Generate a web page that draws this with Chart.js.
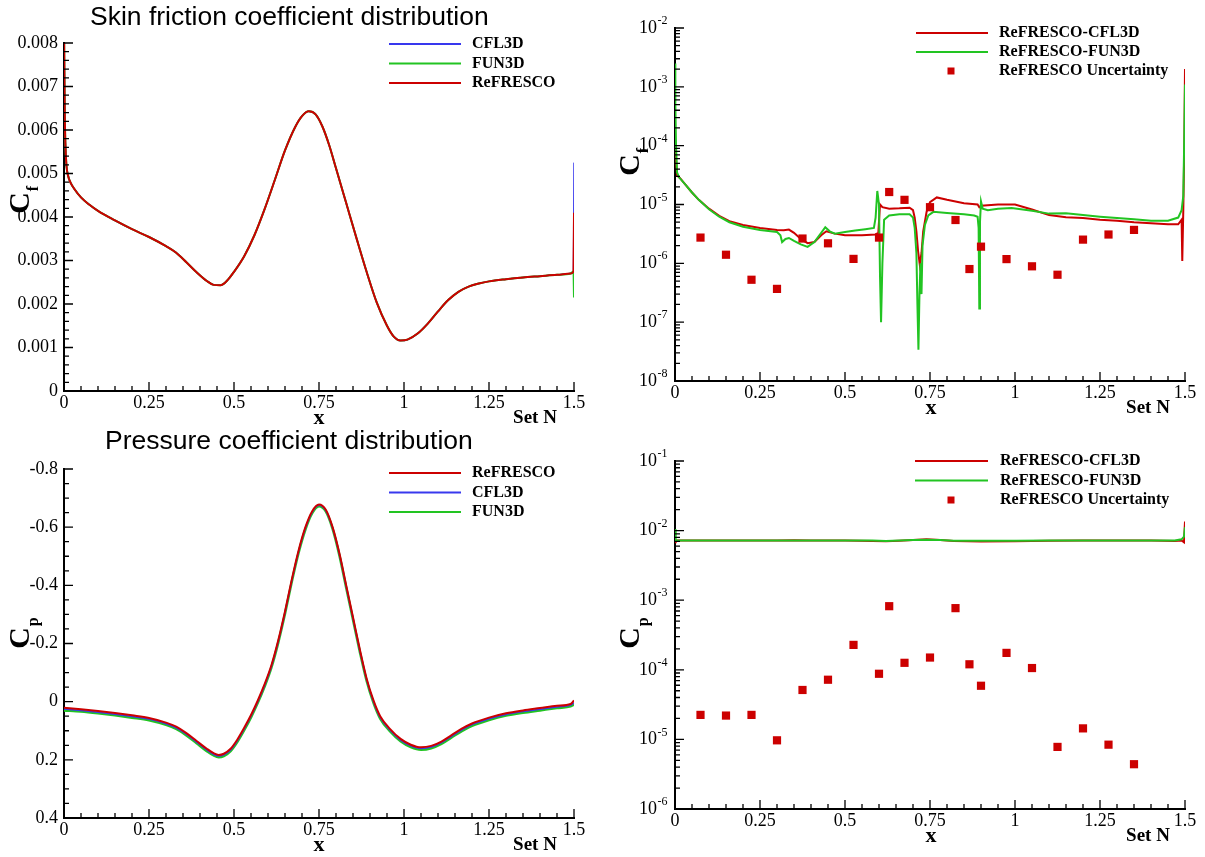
<!DOCTYPE html>
<html>
<head>
<meta charset="utf-8">
<title>Skin friction and pressure coefficient distributions</title>
<script src="https://cdn.jsdelivr.net/npm/chart.js@4.4.1/dist/chart.umd.min.js"></script>
<style>
  html, body { margin: 0; padding: 0; background: #fff; width: 1205px; height: 857px; overflow: hidden; }
  canvas { position: absolute; }
</style>
</head>
<body>
<canvas id="panelCf" width="600" height="428" style="left:0;top:0"></canvas>
<canvas id="panelCfErr" width="605" height="428" style="left:600px;top:0"></canvas>
<canvas id="panelCp" width="600" height="429" style="left:0;top:428px"></canvas>
<canvas id="panelCpErr" width="605" height="429" style="left:600px;top:428px"></canvas>
<script>
// ---------- axis ticks ----------
const xTickValues = [0, 0.25, 0.5, 0.75, 1, 1.25, 1.5];
const xTickLabels = ['0', '0.25', '0.5', '0.75', '1', '1.25', '1.5'];
const cfTickValues = [0, 0.001, 0.002, 0.003, 0.004, 0.005, 0.006, 0.007, 0.008];
const cfTickLabels = ['0', '0.001', '0.002', '0.003', '0.004', '0.005', '0.006', '0.007', '0.008'];
const cpTickValues = [-0.8, -0.6, -0.4, -0.2, 0, 0.2, 0.4];
const cpTickLabels = ['-0.8', '-0.6', '-0.4', '-0.2', '0', '0.2', '0.4'];
const cfErrExponents = [-8, -7, -6, -5, -4, -3, -2];
const cpErrExponents = [-6, -5, -4, -3, -2, -1];

// ---------- skin friction coefficient ----------
const cfX = [0, 0.002, 0.004, 0.007, 0.012, 0.02, 0.03, 0.05, 0.075, 0.1, 0.15, 0.2, 0.25, 0.3, 0.33,
  0.36, 0.39, 0.42, 0.44, 0.46, 0.48, 0.5, 0.53, 0.56, 0.59, 0.62, 0.65, 0.68, 0.7, 0.72,
  0.74, 0.76, 0.78, 0.8, 0.83, 0.86, 0.89, 0.92, 0.95, 0.97, 0.99, 1.01, 1.04, 1.07, 1.1,
  1.13, 1.16, 1.19, 1.22, 1.25, 1.3, 1.35, 1.4, 1.45, 1.49, 1.4985, 1.5];
const cfCFL3D = [0.0085, 0.0065, 0.0057, 0.0052, 0.00495, 0.00478, 0.00465, 0.00445, 0.00428, 0.00414,
  0.00392, 0.00372, 0.00354, 0.00333, 0.00318, 0.00296, 0.00273, 0.00253, 0.00244, 0.00243,
  0.00254, 0.00274, 0.0031, 0.00358, 0.00418, 0.00485, 0.00553, 0.00607, 0.00632, 0.00643,
  0.00636, 0.00608, 0.00565, 0.00512, 0.00432, 0.00352, 0.00274, 0.00203, 0.0015, 0.00125,
  0.00116, 0.00118, 0.00132, 0.00155, 0.00183, 0.00209, 0.00228, 0.0024, 0.00247, 0.00252,
  0.00257, 0.00261, 0.00264, 0.00267, 0.0027, 0.00275, 0.00525];
const cfFUN3D = [0.0085, 0.0065, 0.0057, 0.0052, 0.00495, 0.00478, 0.00465, 0.00445, 0.00428, 0.00414,
  0.00392, 0.00372, 0.00354, 0.00333, 0.00318, 0.00296, 0.00273, 0.00253, 0.00244, 0.00243,
  0.00254, 0.00274, 0.0031, 0.00358, 0.00418, 0.00485, 0.00553, 0.00607, 0.00632, 0.00643,
  0.00636, 0.00608, 0.00565, 0.00512, 0.00432, 0.00352, 0.00274, 0.00203, 0.0015, 0.00125,
  0.00116, 0.00118, 0.00132, 0.00155, 0.00183, 0.00209, 0.00228, 0.0024, 0.00247, 0.00252,
  0.00257, 0.00261, 0.00264, 0.00267, 0.0027, 0.00275, 0.00215];
const cfReFRESCO = [0.0085, 0.0065, 0.0057, 0.0052, 0.00495, 0.00478, 0.00465, 0.00445, 0.00428, 0.00414,
  0.00392, 0.00372, 0.00354, 0.00333, 0.00318, 0.00296, 0.00273, 0.00253, 0.00244, 0.00243,
  0.00254, 0.00274, 0.0031, 0.00358, 0.00418, 0.00485, 0.00553, 0.00607, 0.00632, 0.00643,
  0.00636, 0.00608, 0.00565, 0.00512, 0.00432, 0.00352, 0.00274, 0.00203, 0.0015, 0.00125,
  0.00116, 0.00118, 0.00132, 0.00155, 0.00183, 0.00209, 0.00228, 0.0024, 0.00247, 0.00252,
  0.00257, 0.00261, 0.00264, 0.00267, 0.0027, 0.00275, 0.0041];

// ---------- skin friction differences ----------
const cfDiffCFL3DX = [0, 0.003, 0.006, 0.015, 0.03, 0.05, 0.07, 0.1, 0.13, 0.16, 0.2, 0.25, 0.3, 0.32, 0.335,
  0.35, 0.37, 0.39, 0.41, 0.43, 0.445, 0.47, 0.5, 0.55, 0.59, 0.598, 0.603, 0.61, 0.63, 0.66,
  0.69, 0.7, 0.705, 0.71, 0.715, 0.72, 0.725, 0.73, 0.74, 0.75, 0.77, 0.8, 0.85, 0.89, 0.895,
  0.9, 0.95, 1.0, 1.05, 1.1, 1.15, 1.2, 1.25, 1.3, 1.35, 1.4, 1.45, 1.48, 1.49, 1.492,
  1.495, 1.498, 1.5];
const cfDiffCFL3D = [1.2e-4, 6e-5, 3.1e-5, 2.8e-5, 2.2e-5, 1.6e-5, 1.2e-5, 8.5e-6, 6.4e-6, 5.2e-6,
  4.5e-6, 4.0e-6, 3.7e-6, 3.65e-6, 3.75e-6, 3.3e-6, 2.6e-6, 2.2e-6, 2.3e-6, 3.0e-6,
  3.5e-6, 3.2e-6, 3.0e-6, 3.0e-6, 3.1e-6, 3.3e-6, 1.0e-5, 9.0e-6, 8.5e-6, 8.6e-6,
  8.8e-6, 8.0e-6, 6e-6, 3.5e-6, 1.6e-6, 9.5e-7, 1.5e-6, 3.5e-6, 7.5e-6, 1.1e-5,
  1.32e-5, 1.2e-5, 1.05e-5, 1.0e-5, 9.0e-6, 9.5e-6, 1.0e-5, 1.0e-5, 8.2e-6, 6.6e-6,
  6.1e-6, 5.9e-6, 5.5e-6, 5.3e-6, 5.0e-6, 4.8e-6, 4.6e-6, 4.6e-6, 5.5e-6, 1.1e-6,
  8e-6, 1e-4, 2e-3];
const cfDiffFUN3DX = [0, 0.001, 0.003, 0.006, 0.012, 0.03, 0.05, 0.07, 0.1, 0.13, 0.16, 0.2, 0.25, 0.3, 0.31,
  0.315, 0.325, 0.335, 0.35, 0.37, 0.39, 0.41, 0.43, 0.442, 0.455, 0.47, 0.5, 0.53, 0.56, 0.585,
  0.59, 0.595, 0.6, 0.603, 0.606, 0.61, 0.615, 0.63, 0.66, 0.69, 0.7, 0.705, 0.71, 0.713, 0.716,
  0.719, 0.722, 0.725, 0.728, 0.735, 0.745, 0.76, 0.8, 0.85, 0.88, 0.89, 0.893, 0.895, 0.897, 0.9,
  0.905, 0.92, 0.95, 0.99, 1.05, 1.1, 1.15, 1.2, 1.25, 1.3, 1.35, 1.4, 1.45, 1.48, 1.49,
  1.495, 1.498, 1.5];
const cfDiffFUN3D = [2.5e-3, 5e-4, 1e-4, 3.5e-5, 2.9e-5, 2.2e-5, 1.6e-5, 1.2e-5, 8.3e-6, 6.2e-6,
  5.0e-6, 4.2e-6, 3.7e-6, 3.4e-6, 3.0e-6, 2.3e-6, 2.6e-6, 2.7e-6, 2.4e-6, 2.1e-6,
  1.9e-6, 2.3e-6, 3.3e-6, 4.1e-6, 3.5e-6, 3.2e-6, 3.4e-6, 3.6e-6, 3.8e-6, 4.0e-6,
  6e-6, 1.7e-5, 1.0e-5, 6e-7, 1.0e-7, 1e-6, 5.5e-6, 6.5e-6, 6.8e-6, 6.8e-6,
  6.0e-6, 4e-6, 1.5e-6, 2e-7, 3.4e-8, 3e-7, 1e-6, 3e-7, 2e-6, 4.5e-6,
  6.5e-6, 7.5e-6, 7.2e-6, 6.8e-6, 6.5e-6, 6.2e-6, 4e-6, 1.7e-7, 5e-6, 1.13e-5,
  8.5e-6, 8.0e-6, 8.5e-6, 8.7e-6, 7.8e-6, 7.0e-6, 7.1e-6, 6.6e-6, 6.2e-6, 5.9e-6,
  5.6e-6, 5.3e-6, 5.3e-6, 6.0e-6, 8e-6, 1.4e-5, 1.5e-4, 1.1e-3];

// ---------- uncertainty estimates on Set N ----------
const uncX = [0.075, 0.15, 0.225, 0.3, 0.375, 0.45, 0.525, 0.6, 0.63, 0.675, 0.75, 0.825, 0.866, 0.9,
  0.975, 1.05, 1.125, 1.2, 1.275, 1.35];
const cfUncertainty = [2.74e-6, 1.40e-6, 5.26e-7, 3.68e-7, 2.64e-6, 2.19e-6, 1.19e-6, 2.74e-6, 1.63e-5, 1.2e-5,
  9.0e-6, 5.45e-6, 8.0e-7, 1.92e-6, 1.18e-6, 8.9e-7, 6.4e-7, 2.53e-6, 3.09e-6, 3.7e-6];
const cpUncertainty = [2.25e-5, 2.2e-5, 2.25e-5, 9.7e-6, 5.13e-5, 7.2e-5, 2.28e-4, 8.77e-5, 8.2e-4, 1.26e-4,
  1.5e-4, 7.69e-4, 1.2e-4, 5.9e-5, 1.75e-4, 1.06e-4, 7.8e-6, 1.44e-5, 8.4e-6, 4.4e-6];

// ---------- pressure coefficient ----------
const cpX = [0, 0.05, 0.1, 0.15, 0.2, 0.25, 0.3, 0.33, 0.36, 0.39, 0.42, 0.44, 0.455, 0.47, 0.49,
  0.51, 0.53, 0.55, 0.57, 0.59, 0.61, 0.63, 0.65, 0.67, 0.69, 0.71, 0.73, 0.75, 0.77, 0.79,
  0.81, 0.83, 0.85, 0.87, 0.89, 0.91, 0.93, 0.96, 0.99, 1.02, 1.05, 1.08, 1.11, 1.14, 1.17,
  1.2, 1.25, 1.3, 1.35, 1.4, 1.45, 1.49, 1.5];
const cpReFRESCO = [0.021, 0.026, 0.032, 0.039, 0.047, 0.056, 0.072, 0.086, 0.108, 0.135,
  0.162, 0.177, 0.183, 0.179, 0.162, 0.13, 0.09, 0.046, -0.004, -0.06,
  -0.125, -0.21, -0.31, -0.42, -0.52, -0.6, -0.655, -0.678, -0.66, -0.6,
  -0.51, -0.4, -0.29, -0.18, -0.08, -0.005, 0.05, 0.095, 0.128, 0.148,
  0.157, 0.152, 0.137, 0.115, 0.093, 0.075, 0.055, 0.04, 0.03, 0.022,
  0.014, 0.008, -0.004];
const cpCFL3D = [0.025, 0.03, 0.036, 0.043, 0.051, 0.06, 0.076, 0.09, 0.112, 0.139,
  0.166, 0.181, 0.187, 0.183, 0.166, 0.134, 0.094, 0.05, 0, -0.056,
  -0.121, -0.206, -0.306, -0.416, -0.516, -0.596, -0.652, -0.675, -0.657, -0.597,
  -0.507, -0.396, -0.286, -0.176, -0.076, -0.001, 0.054, 0.099, 0.132, 0.152,
  0.161, 0.156, 0.141, 0.119, 0.097, 0.079, 0.059, 0.044, 0.034, 0.026,
  0.018, 0.012, 0.004];
const cpFUN3D = [0.03, 0.034, 0.04, 0.047, 0.055, 0.064, 0.08, 0.094, 0.116, 0.143,
  0.17, 0.185, 0.191, 0.187, 0.17, 0.138, 0.098, 0.054, 0.004, -0.052,
  -0.117, -0.202, -0.302, -0.412, -0.512, -0.592, -0.648, -0.672, -0.654, -0.594,
  -0.503, -0.392, -0.282, -0.172, -0.072, 0.003, 0.058, 0.103, 0.136, 0.156,
  0.165, 0.16, 0.145, 0.123, 0.101, 0.083, 0.063, 0.048, 0.038, 0.03,
  0.022, 0.016, 0.01];

// ---------- pressure coefficient differences ----------
const cpDiffCFL3DX = [0, 0.002, 0.1, 0.2, 0.3, 0.35, 0.4, 0.5, 0.58, 0.62, 0.66, 0.7, 0.74, 0.78, 0.82,
  0.9, 1.0, 1.1, 1.2, 1.3, 1.4, 1.47, 1.49, 1.497, 1.5, 1.5];
const cpDiffCFL3D = [0.0068, 0.0072, 0.0072, 0.0072, 0.0072, 0.00725, 0.0072, 0.0072, 0.0071, 0.00705,
  0.00715, 0.0073, 0.0075, 0.00735, 0.0071, 0.007, 0.00705, 0.00715, 0.0072, 0.0072,
  0.0072, 0.0071, 0.0072, 0.0068, 0.0135, 0.0066];
const cpDiffFUN3DX = [0, 0.002, 0.1, 0.2, 0.3, 0.35, 0.4, 0.5, 0.58, 0.62, 0.66, 0.7, 0.74, 0.78, 0.82,
  0.9, 1.0, 1.1, 1.2, 1.3, 1.4, 1.47, 1.49, 1.497, 1.5];
const cpDiffFUN3D = [0.0105, 0.0072, 0.0072, 0.00722, 0.0072, 0.0072, 0.0072, 0.0072, 0.0072, 0.0071,
  0.0072, 0.0073, 0.0074, 0.0073, 0.00715, 0.00712, 0.00712, 0.0072, 0.0072, 0.0072,
  0.0072, 0.0072, 0.0075, 0.0082, 0.0112];

// ---------- styling ----------
const SERIF = '"Liberation Serif", "Times New Roman", Times, serif';
const SANS = '"Liberation Sans", Arial, Helvetica, sans-serif';
const RED = '#cc0000';
const GREEN = '#22c422';
const BLUE = '#3838ee';

function points(xs, ys) {
  return xs.map((x, i) => ({ x: x, y: ys[i] }));
}

function stepsBetween(from, to, step) {
  const out = [];
  const n = Math.round((to - from) / step);
  for (let i = 0; i <= n; i++) out.push(+(from + i * step).toFixed(6));
  return out;
}

function logMinors(lowExp, highExp) {
  const out = [];
  for (let e = lowExp; e < highExp; e++) {
    for (let m = 2; m <= 9; m++) out.push(m * Math.pow(10, e));
  }
  return out;
}

// Per-panel decoration settings, keyed by canvas id.
const decorSettings = {};

// Inward tick marks, tick labels, axis titles, panel title and legend.
const panelDecor = {
  id: 'panelDecor',
  afterDraw(chart) {
    const o = decorSettings[chart.canvas.id];
    if (!o) return;
    const ctx = chart.ctx;
    const a = chart.chartArea;
    const xs = chart.scales.x;
    const ys = chart.scales.y;
    ctx.save();

    // tick marks, pointing into the plot
    ctx.strokeStyle = '#000';
    ctx.lineWidth = 1.3;
    ctx.beginPath();
    const xTick = (v, len) => {
      const p = xs.getPixelForValue(v);
      ctx.moveTo(p, a.bottom); ctx.lineTo(p, a.bottom - len);
    };
    const yTick = (v, len) => {
      const p = ys.getPixelForValue(v);
      ctx.moveTo(a.left, p); ctx.lineTo(a.left + len, p);
    };
    o.xMinor.forEach(v => xTick(v, 5));
    o.xMajor.forEach(v => xTick(v, 9));
    o.yMinor.forEach(v => yTick(v, 5));
    o.yMajor.forEach(v => yTick(v, 9));
    ctx.stroke();

    ctx.fillStyle = '#000';

    // x tick labels
    ctx.font = '18px ' + SERIF;
    ctx.textAlign = 'center';
    ctx.textBaseline = 'middle';
    xTickValues.forEach((v, i) => {
      ctx.fillText(xTickLabels[i], xs.getPixelForValue(v), a.bottom + 12);
    });

    // y tick labels
    if (o.yLabels) {
      ctx.textAlign = 'right';
      o.yLabels.values.forEach((v, i) => {
        ctx.fillText(o.yLabels.text[i], a.left - 6, ys.getPixelForValue(v));
      });
    }

    // decade labels on logarithmic axes
    if (o.logExponents) {
      ctx.textAlign = 'left';
      o.logExponents.forEach(e => {
        const py = ys.getPixelForValue(Math.pow(10, e));
        const expText = String(e);
        ctx.font = '18px ' + SERIF;
        const w10 = ctx.measureText('10').width;
        ctx.font = '12px ' + SERIF;
        const we = ctx.measureText(expText).width;
        const x0 = a.left - 8 - we - w10;
        ctx.font = '18px ' + SERIF;
        ctx.fillText('10', x0, py);
        ctx.font = '12px ' + SERIF;
        ctx.fillText(expText, x0 + w10 + 0.5, py - 7);
      });
    }

    // x-axis titles
    ctx.textAlign = 'center';
    ctx.font = 'bold 22px ' + SERIF;
    ctx.fillText('x', o.xTitle.x, o.xTitle.y);
    ctx.font = 'bold 19px ' + SERIF;
    ctx.fillText('Set N', o.setTitle.x, o.setTitle.y);

    // rotated y-axis title with subscript
    ctx.save();
    ctx.translate(o.yTitle.x, o.yTitle.y);
    ctx.rotate(-Math.PI / 2);
    ctx.textAlign = 'left';
    ctx.textBaseline = 'alphabetic';
    ctx.font = 'bold 30px ' + SERIF;
    const wC = ctx.measureText('C').width;
    ctx.fillText('C', -wC / 2, 0);
    ctx.font = 'bold 16px ' + SERIF;
    ctx.fillText(o.yTitle.sub, wC / 2 + 1, 9);
    ctx.restore();

    // panel title
    if (o.title) {
      ctx.textAlign = 'left';
      ctx.textBaseline = 'middle';
      ctx.font = '26.5px ' + SANS;
      ctx.fillText(o.title.text, o.title.x, o.title.y);
    }

    // legend
    const lg = o.legend;
    ctx.textAlign = 'left';
    ctx.textBaseline = 'middle';
    lg.order.forEach((di, row) => {
      const ds = chart.data.datasets[di];
      const y = lg.y0 + row * lg.dy;
      if (ds.showLine === false) {
        ctx.fillStyle = ds.backgroundColor;
        ctx.fillRect(lg.marker - 3.5, y - 3.5, 7, 7);
      } else {
        ctx.strokeStyle = ds.borderColor;
        ctx.lineWidth = 2.2;
        ctx.beginPath();
        ctx.moveTo(lg.line0, y); ctx.lineTo(lg.line1, y);
        ctx.stroke();
      }
      ctx.fillStyle = '#000';
      ctx.font = 'bold 16px ' + SERIF;
      ctx.fillText(ds.label, lg.text, y);
    });

    ctx.restore();
  }
};

function xScale(height) {
  return {
    type: 'linear', min: 0, max: 1.5,
    afterBuildTicks: s => { s.ticks = xTickValues.map(v => ({ value: v })); },
    afterFit: s => { s.height = height; },
    grid: { display: false },
    border: { display: true, color: '#000', width: 2 },
    ticks: { display: false }
  };
}

function linearYScale(min, max, values, reverse) {
  return {
    type: 'linear', min: min, max: max, reverse: !!reverse,
    afterBuildTicks: s => { s.ticks = values.map(v => ({ value: v })); },
    afterFit: s => { s.width = 64; },
    grid: { display: false },
    border: { display: true, color: '#000', width: 2 },
    ticks: { display: false }
  };
}

function logYScale(lowExp, highExp) {
  return {
    type: 'logarithmic', min: Math.pow(10, lowExp), max: Math.pow(10, highExp),
    afterFit: s => { s.width = 75; },
    grid: { display: false },
    border: { display: true, color: '#000', width: 2 },
    ticks: { display: false }
  };
}

function lineSet(label, data, color, width, order, smooth) {
  return {
    label: label, data: data, borderColor: color, backgroundColor: color,
    borderWidth: width, pointRadius: 0, order: order,
    tension: 0, cubicInterpolationMode: smooth ? 'monotone' : 'default'
  };
}

function squareSet(label, data, order) {
  return {
    label: label, data: data, showLine: false, order: order,
    pointStyle: 'rect', pointRadius: 5.8, pointBorderWidth: 0, borderWidth: 0,
    backgroundColor: RED, borderColor: RED
  };
}

function makePanel(id, datasets, scales, padding, decor) {
  decorSettings[id] = decor;
  return new Chart(document.getElementById(id), {
    type: 'line',
    data: { datasets: datasets },
    options: {
      responsive: false, animation: false, devicePixelRatio: 1, events: [],
      layout: { padding: padding },
      scales: scales,
      plugins: { legend: { display: false }, title: { display: false }, tooltip: { enabled: false } }
    },
    plugins: [panelDecor]
  });
}

const xMinorTicks = stepsBetween(0, 1.5, 0.05);

// Skin friction coefficient distribution
makePanel('panelCf', [
  lineSet('CFL3D', points(cfX, cfCFL3D), BLUE, 1.5, 2, true),
  lineSet('FUN3D', points(cfX, cfFUN3D), GREEN, 2, 1, true),
  lineSet('ReFRESCO', points(cfX, cfReFRESCO), RED, 2, 0, true)
], {
  x: xScale(37),
  y: linearYScale(0, 0.008, cfTickValues, false)
}, { left: 0, top: 43, right: 26, bottom: 0 }, {
  xMajor: xTickValues, xMinor: xMinorTicks,
  yMajor: cfTickValues, yMinor: stepsBetween(0, 0.008, 0.0002),
  yLabels: { values: cfTickValues, text: cfTickLabels },
  xTitle: { x: 319, y: 418 }, setTitle: { x: 535, y: 418 },
  yTitle: { x: 29, y: 203, sub: 'f' },
  title: { text: 'Skin friction coefficient distribution', x: 90, y: 18 },
  legend: { order: [0, 1, 2], y0: 44, dy: 19.5, line0: 389, line1: 461, marker: 424, text: 472 }
});

// Skin friction differences and uncertainty
makePanel('panelCfErr', [
  lineSet('ReFRESCO-CFL3D', points(cfDiffCFL3DX, cfDiffCFL3D), RED, 2, 2, false),
  lineSet('ReFRESCO-FUN3D', points(cfDiffFUN3DX, cfDiffFUN3D), GREEN, 2, 1, false),
  squareSet('ReFRESCO Uncertainty', points(uncX, cfUncertainty), 0)
], {
  x: xScale(47),
  y: logYScale(-8, -2)
}, { left: 0, top: 28, right: 20, bottom: 0 }, {
  xMajor: xTickValues, xMinor: xMinorTicks,
  yMajor: cfErrExponents.map(e => Math.pow(10, e)), yMinor: logMinors(-8, -2),
  logExponents: cfErrExponents,
  xTitle: { x: 331, y: 408 }, setTitle: { x: 548, y: 408 },
  yTitle: { x: 39, y: 165, sub: 'f' },
  legend: { order: [0, 1, 2], y0: 33, dy: 19, line0: 316, line1: 388, marker: 351, text: 399 }
});

// Pressure coefficient distribution
makePanel('panelCp', [
  lineSet('ReFRESCO', points(cpX, cpReFRESCO), RED, 2, 0, true),
  lineSet('CFL3D', points(cpX, cpCFL3D), BLUE, 1.5, 1, true),
  lineSet('FUN3D', points(cpX, cpFUN3D), GREEN, 2.5, 2, true)
], {
  x: xScale(39),
  y: linearYScale(-0.8, 0.4, cpTickValues, true)
}, { left: 0, top: 41, right: 26, bottom: 0 }, {
  xMajor: xTickValues, xMinor: xMinorTicks,
  yMajor: cpTickValues, yMinor: stepsBetween(-0.8, 0.4, 0.05),
  yLabels: { values: cpTickValues, text: cpTickLabels },
  xTitle: { x: 319, y: 417 }, setTitle: { x: 535, y: 417 },
  yTitle: { x: 29, y: 210, sub: 'p' },
  title: { text: 'Pressure coefficient distribution', x: 105, y: 14 },
  legend: { order: [0, 1, 2], y0: 45, dy: 19.5, line0: 389, line1: 461, marker: 424, text: 472 }
});

// Pressure coefficient differences and uncertainty
makePanel('panelCpErr', [
  lineSet('ReFRESCO-CFL3D', points(cpDiffCFL3DX, cpDiffCFL3D), RED, 2, 2, false),
  lineSet('ReFRESCO-FUN3D', points(cpDiffFUN3DX, cpDiffFUN3D), GREEN, 2, 1, false),
  squareSet('ReFRESCO Uncertainty', points(uncX, cpUncertainty), 0)
], {
  x: xScale(48),
  y: logYScale(-6, -1)
}, { left: 0, top: 33, right: 20, bottom: 0 }, {
  xMajor: xTickValues, xMinor: xMinorTicks,
  yMajor: cpErrExponents.map(e => Math.pow(10, e)), yMinor: logMinors(-6, -1),
  logExponents: cpErrExponents,
  xTitle: { x: 331, y: 408 }, setTitle: { x: 548, y: 408 },
  yTitle: { x: 39, y: 210, sub: 'p' },
  legend: { order: [0, 1, 2], y0: 33, dy: 19.5, line0: 315, line1: 388, marker: 351, text: 400 }
});
</script>
</body>
</html>
